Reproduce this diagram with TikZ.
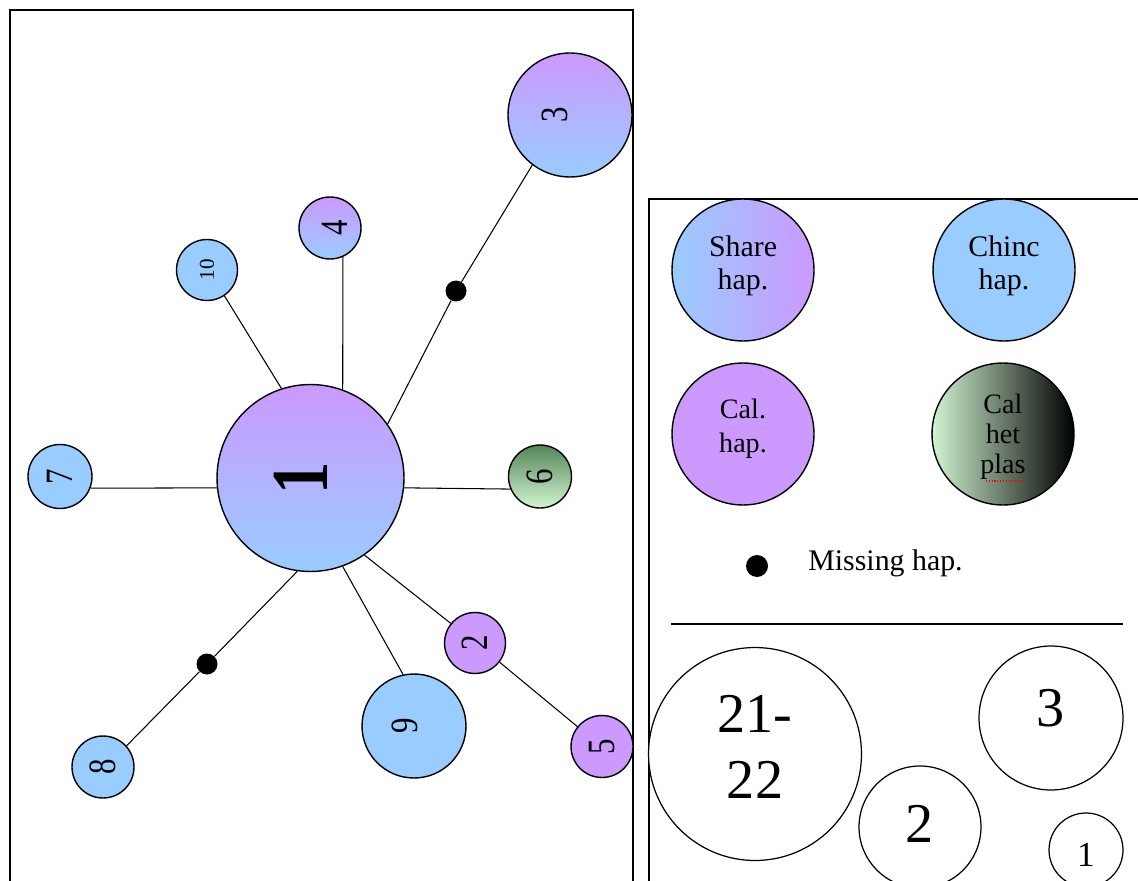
\documentclass[tikz,border=0pt]{standalone}
\usepackage{fontspec}
\setmainfont{Liberation Serif}
\usepackage{graphicx}
\definecolor{hblue}{HTML}{99CCFF}
\definecolor{hpurple}{HTML}{CC99FF}
\definecolor{hgreenl}{HTML}{D2F5D2}
\definecolor{hgreend}{HTML}{55855A}
\definecolor{hgreenm}{HTML}{B4E0B4}
\newcommand\rlab[4][.8]{\rotatebox{90}{\raisebox{#2}[\height][\depth]{\scalebox{#1}[1]{\fontsize{#3}{#3}\selectfont #4}}}}
\newcommand\lift[2]{\raisebox{#1}[\height][\depth]{#2}}
\newcommand\stk[1]{\begin{tabular}{@{}c@{}}#1\end{tabular}}
\begin{document}
\begin{tikzpicture}[x=0.02cm,y=-0.02cm,
  hap/.style={circle,draw=black,line width=0.8pt,inner sep=0pt},
  dotnode/.style={circle,fill=black,inner sep=0pt,minimum size=0.42cm},
  edge/.style={line width=0.6pt,black},
  frame/.style={line width=0.8pt,black},
  blue/.style={hap,fill=hblue},
  purple/.style={hap,fill=hpurple},
  mixv/.style={hap,top color=hpurple,bottom color=hblue},
  sizecirc/.style={circle,draw=black,line width=0.7pt,inner sep=0pt,fill=white}]
\useasboundingbox (0,0) rectangle (1138,881);
\fill[white] (0,0) rectangle (1138,881);
% frames
\draw[frame] (10,881) -- (10,10) -- (633,10) -- (633,881);
\draw[frame] (649,881) -- (649,199) -- (1138,199);
% network nodes
\node[mixv,minimum size=3.74cm] (n1) at (310.5,478) {\rlab{5.7pt}{46}{\bfseries 1}};
\node[mixv,minimum size=2.48cm] (n3) at (570,115) {\rlab{8.5pt}{22}{3}};
\node[mixv,minimum size=1.24cm] (n4) at (330,228) {\rlab{-3pt}{22}{4}};
\node[blue,minimum size=1.22cm] (n10) at (207,270) {\rlab[1]{0pt}{12}{10}};
\node[blue,minimum size=1.28cm] (n7) at (60,476.5) {\rlab{0pt}{22}{7}};
\node[hap,top color=hgreend,bottom color=hgreenl,minimum size=1.26cm] (n6) at (540,476.5) {\rlab{0pt}{22}{6}};
\node[purple,minimum size=1.22cm] (n2) at (475,643) {\rlab{0pt}{22}{2}};
\node[purple,minimum size=1.24cm] (n5) at (602,746.5) {\rlab{0pt}{22}{5}};
\node[blue,minimum size=2.08cm] (n9) at (414,726) {\rlab{5pt}{22}{9}};
\node[blue,minimum size=1.24cm] (n8) at (103,767) {\rlab{0pt}{22}{8}};
\node[dotnode] (d1) at (456,291) {};
\node[dotnode] (d2) at (207,664) {};
% edges
\draw[edge] (n10.-56) -- (n1.108);
\draw[edge] (n1.70) -- (n4.-66);
\draw[edge] (n1.35) -- (d1);
\draw[edge] (d1) -- (n3.-127);
\draw[edge] (n1.-6) -- (n6.-157);
\draw[edge] (n7.-21) -- (n1.186);
\draw[edge] (n1.-55) -- (n2.141);
\draw[edge] (n2.-38) -- (n5.141);
\draw[edge] (n1.-70) -- (n9.102);
\draw[edge] (n1.262) -- (d2);
\draw[edge] (d2) -- (n8.42);
% legend
\node[hap,left color=hblue,right color=hpurple,minimum size=2.84cm] (lg1) at (743,270) {\lift{2pt}{\fontsize{17}{19}\selectfont\stk{Share\\hap.}}};
\node[blue,minimum size=2.84cm] (lg2) at (1004,270) {\lift{2pt}{\fontsize{17}{19}\selectfont\stk{Chinc\\hap.}}};
\node[purple,minimum size=2.84cm] (lg3) at (743,434) {\lift{3pt}{\fontsize{16}{19}\selectfont\stk{Cal.\\hap.}}};
\node[hap,left color=hgreenl,middle color=hgreenm,right color=black,minimum size=2.84cm] (lg4) at (1003,434) {\lift{-2pt}{\fontsize{16}{17}\selectfont\stk{Cal\\het\\plas}}};
\draw[red,densely dotted,line width=0.6pt] (986,481) -- (1023,481);
\node[dotnode,minimum size=0.44cm] (ld) at (757,566) {};
\node[anchor=base west,font=\fontsize{17}{19}\selectfont,inner sep=0pt] (lt) at (808,570) {Missing hap.};
\draw[line width=0.8pt] (671,624) -- (1123,624);
% size scale
\node[sizecirc,minimum size=4.26cm] (s22) at (755,754) {\lift{1pt}{\fontsize{32}{37.5}\selectfont\stk{21-\\22}}};
\node[sizecirc,minimum size=2.44cm,font=\fontsize{32}{32}\selectfont] (s2) at (920,827) {\lift{2pt}{2}};
\node[sizecirc,minimum size=2.88cm,font=\fontsize{32}{32}\selectfont] (s3) at (1051,718) {\lift{5.7pt}{3}};
\node[sizecirc,minimum size=1.48cm,font=\fontsize{20}{20}\selectfont] (s1) at (1086,850) {\lift{-3pt}{1}};
\end{tikzpicture}
\end{document}
